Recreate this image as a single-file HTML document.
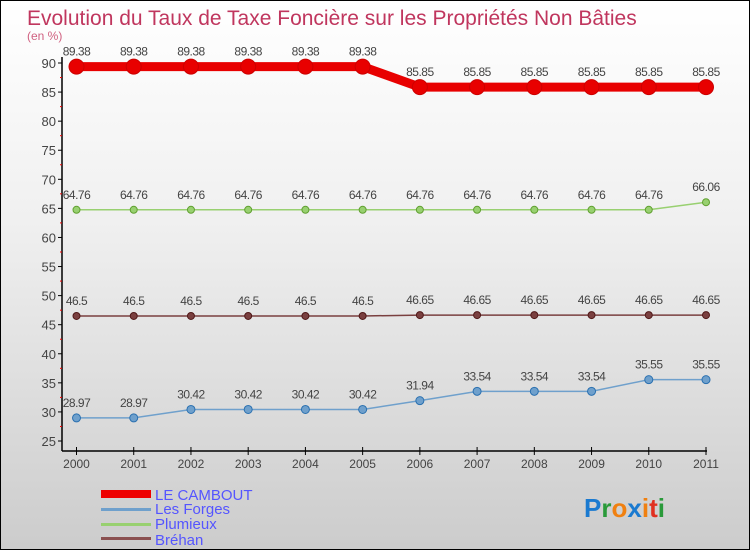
<!DOCTYPE html>
<html><head><meta charset="utf-8"><style>
body{margin:0;}
#c{width:750px;height:550px;position:relative;box-sizing:border-box;border:1px solid #000;background:linear-gradient(#ffffff,#f0f0f0 40%,#cccccc);font-family:"Liberation Sans",sans-serif;overflow:hidden}
</style></head><body>
<div id="c">
<svg id="s" width="750" height="550" style="position:absolute;left:0;top:0">
<text x="26" y="24" font-size="21" fill="#c0365e">Evolution du Taux de Taxe Foncière sur les Propriétés Non Bâties</text>
<text x="26" y="39" font-size="12" fill="#d06080">(en %)</text>
<g id="axes"></g><g id="series"></g>
<g>
<rect x="100" y="489" width="50" height="8" fill="#e00"/>
<text x="154" y="499" font-size="15" fill="#55f">LE CAMBOUT</text>
<rect x="100" y="507" width="50" height="3" fill="#6fa0cc"/>
<text x="154" y="513" font-size="15" fill="#55f">Les Forges</text>
<rect x="100" y="522" width="50" height="3" fill="#98d070"/>
<text x="154" y="528" font-size="15" fill="#55f">Plumieux</text>
<rect x="100" y="536" width="50" height="3" fill="#8a5050"/>
<text x="154" y="544" font-size="15" fill="#55f">Bréhan</text>
</g>
<text x="583" y="516" font-size="26" font-weight="bold"><tspan fill="#1a7ad0">P</tspan><tspan fill="#2a9a3a">r</tspan><tspan fill="#f08010">o</tspan><tspan fill="#1a7ad0">x</tspan><tspan fill="#f08010">i</tspan><tspan fill="#e03020">t</tspan><tspan fill="#2a9a3a">i</tspan></text>
</svg>
</div>
<script>
const years=[2000,2001,2002,2003,2004,2005,2006,2007,2008,2009,2010,2011];
const yTicks=[25,30,35,40,45,50,55,60,65,70,75,80,85,90];
const leCambout=[89.38,89.38,89.38,89.38,89.38,89.38,85.85,85.85,85.85,85.85,85.85,85.85];
const lesForges=[28.97,28.97,30.42,30.42,30.42,30.42,31.94,33.54,33.54,33.54,35.55,35.55];
const plumieux=[64.76,64.76,64.76,64.76,64.76,64.76,64.76,64.76,64.76,64.76,64.76,66.06];
const brehan=[46.5,46.5,46.5,46.5,46.5,46.5,46.65,46.65,46.65,46.65,46.65,46.65];
const NS="http://www.w3.org/2000/svg";
const X=i=>75.5+i*(705-75.5)/(years.length-1);
const Y=v=>440-(v-25)*(440-62)/65;
function mk(t,a,p){const e=document.createElementNS(NS,t);for(const k in a)e.setAttribute(k,a[k]);p.appendChild(e);return e;}
const ax=document.getElementById('axes');
let e=mk('line',{x1:61,y1:56,x2:61,y2:450,stroke:'#000','stroke-width':1.5},ax);


e=mk('line',{x1:61,y1:450,x2:706,y2:450,stroke:'#000','stroke-width':1.5},ax);


yTicks.forEach(v=>{
 mk('line',{x1:57,x2:61,y1:Y(v),y2:Y(v),stroke:'#000'},ax);
 if(v<90)mk('line',{x1:59,x2:61,y1:Y(v+2.5),y2:Y(v+2.5),stroke:'#e00'},ax);
 const t=mk('text',{x:55,y:Y(v)+5,'text-anchor':'end','font-size':13,fill:'#444'},ax);
 t.textContent=v;
 
 
});
years.forEach((y,i)=>{
 mk('line',{x1:X(i),x2:X(i),y1:446,y2:454,stroke:'#000'},ax);
 const t=mk('text',{x:X(i),y:467,'text-anchor':'middle','font-size':12,fill:'#444'},ax);
 t.textContent=y;
 
 
});
const sg=document.getElementById('series');
function series(name,vals,color,w,r,dark){
 const g=mk('g',{},sg);
 
 
 const p=mk('polyline',{points:vals.map((v,i)=>X(i)+','+Y(v)).join(' '),fill:'none',stroke:color,'stroke-width':w},g);
 
 
 vals.forEach((v,i)=>{
  const c=mk('circle',{cx:X(i),cy:Y(v),r:r,fill:color,stroke:dark,'stroke-width':1},g);
  
  
  const t=mk('text',{x:X(i),y:Y(v)-11,'text-anchor':'middle','font-size':12,fill:'#444','letter-spacing':'-0.5'},g);
  t.textContent=String(v).replace('.','.');
  
  
 });
}
series('les-forges',lesForges,'#6fa0cc',1.5,4,'#2a70b0');
series('brehan',brehan,'#7a4040',1.5,3.5,'#501818');
series('plumieux',plumieux,'#98d070',1.5,3.5,'#60a030');
series('le-cambout',leCambout,'#e80000',9,7.5,'#c00');
</script>
</body></html>
